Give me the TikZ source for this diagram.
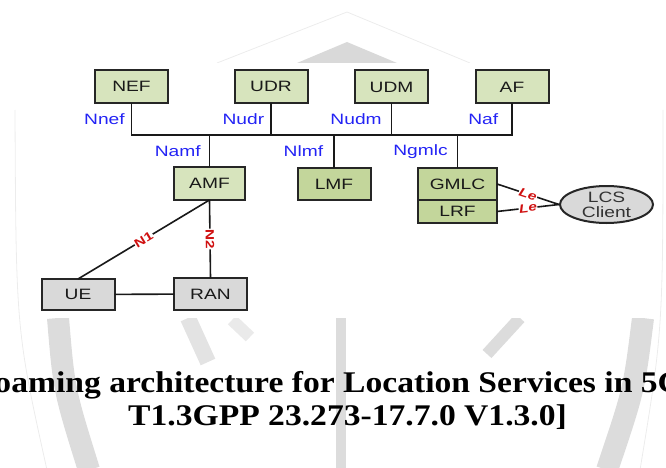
\documentclass[tikz,border=0pt]{standalone}
\usepackage{fontspec}
\newfontfamily\nffont{Liberation Sans}[FakeStretch=1.28]
\newfontfamily\capfont{Liberation Serif}[FakeStretch=1.12]
\usetikzlibrary{shapes.geometric}
\usetikzlibrary{positioning}
\definecolor{nfgreen}{HTML}{D7E4BD}
\definecolor{nfgreend}{HTML}{C3D69B}
\definecolor{uegray}{HTML}{D9D9D9}
\definecolor{ifblue}{HTML}{2323F5}
\definecolor{ifred}{HTML}{D01010}
\definecolor{wmgray}{HTML}{DCDCDC}
\tikzset{
    nfnode/.style = {rectangle, line width=2pt, draw=black!85, fill=nfgreen, minimum width=73pt, minimum height=33pt, inner sep=0pt, outer sep=0pt, font=\nffont\fontsize{15}{18}\selectfont, text=black!90},
    nfnoded/.style = {nfnode, fill=nfgreend},
    uenode/.style = {nfnode, fill=uegray},
    clientnode/.style = {ellipse, line width=2pt, draw=black!85, fill=uegray, minimum width=93pt, minimum height=37pt, inner sep=0pt, align=center, font=\nffont\fontsize{15}{15}\selectfont, text=black!80},
    edgen/.style = {-, line width=1.6pt, black!90},
    ifname/.style = {text=ifblue, font=\nffont\fontsize{15}{18}\selectfont, inner sep=1pt},
    refname/.style = {text=ifred, fill=white, font=\nffont\bfseries\fontsize{12}{12}\selectfont, inner sep=0.5pt, sloped},
    refnamei/.style = {refname, font=\nffont\bfseries\itshape\fontsize{12}{12}\selectfont},
    wmband/.style = {draw=wmgray, line width=#1},
    wmline/.style = {draw=gray!15, line width=0.8pt}
}

\begin{document}
\begin{tikzpicture}[x=1pt, y=-1pt]
  \useasboundingbox (0,0) rectangle (666,468);
  \clip (0,0) rectangle (666,468);
  % emblem behind the page
  \draw[wmline] (15,110) .. controls (16,330) .. (47,470);
  \draw[wmline] (663,110) .. controls (663,330) .. (640,470);
  \draw[wmline] (217,63) -- (347,12) -- (470,63);
  \fill[gray!30] (297,63) -- (347,42) -- (397,63) -- cycle;
  \draw[wmband=22pt] (58,318) .. controls (64,390) .. (89,470);
  \draw[wmband=22pt] (643,318) .. controls (634,390) .. (607,470);
  \draw[wmband=10pt] (341,318) -- (341,470);
  \draw[wmband=16pt, draw=wmgray!80] (188,318) -- (208,362);
  \draw[wmband=12pt, draw=wmgray!60] (232,320) -- (250,337);
  \draw[wmband=12pt] (520,318) -- (487,354);
  \fill[white] (22,63) rectangle (656,318);

  % network functions
  \node[nfnode] (nef) at (131.5,86.5) {NEF};
  \node[nfnode] (udr) at (271,86.5) {UDR};
  \node[nfnode] (udm) at (391.5,87) {UDM};
  \node[nfnode] (af) at (512,87) {AF};
  \node[nfnode, minimum width=71pt] (amf) at (209.5,183.5) {AMF};
  \node[nfnoded, minimum height=32pt] (lmf) at (334,184) {LMF};
  \node[nfnoded, minimum width=79pt, minimum height=32pt] (gmlc) at (457.5,184) {GMLC};
  \node[nfnoded, minimum width=79pt, minimum height=23pt, below=0pt of gmlc] (lrf) {LRF};
  \node[uenode, minimum height=31pt] (ue) at (78,294.5) {UE};
  \node[uenode, minimum height=32pt] (ran) at (210.5,294) {RAN};
  \node[clientnode] (lcs) at (606.5,204.5) {LCS\\Client};

  % service bus
  \coordinate (bus) at (0,135);
  \draw[edgen] (nef) -- node[ifname, left=5pt] {Nnef} (nef |- bus) -- (af |- bus) -- node[ifname, left=12pt] {Naf} (af);
  \draw[edgen] (udr) -- node[ifname, left=5pt] {Nudr} (udr |- bus);
  \draw[edgen] (udm) -- node[ifname, left=8pt] {Nudm} (udm |- bus);
  \draw[edgen] (amf) -- node[ifname, left=7pt] {Namf} (amf |- bus);
  \draw[edgen] (lmf) -- node[ifname, left=9pt] {Nlmf} (lmf |- bus);
  \draw[edgen] (gmlc) -- node[ifname, left=8pt] {Ngmlc} (gmlc |- bus);

  % reference points
  \draw[edgen] (ue.north) -- node[refname] {N1} (amf.south);
  \draw[edgen] (amf.south) -- node[refname] {N2} (ran.north);
  \draw[edgen] (ue) -- (ran);
  \draw[edgen] (gmlc.east) -- node[refnamei] {Le} (lcs.west);
  \draw[edgen] (lrf.east) -- node[refnamei] {Le} (lcs.west);

  % caption
  \node[anchor=base east, inner sep=0pt, font=\capfont\bfseries\fontsize{30}{36}\selectfont] (cap1) at (684,392) {Roaming architecture for Location Services in 5G};
  \node[anchor=base west, inner sep=0pt, font=\capfont\bfseries\fontsize{30}{36}\selectfont] (cap2) at (128,425) {T1.3GPP 23.273-17.7.0 V1.3.0]};
\end{tikzpicture}
\end{document}
